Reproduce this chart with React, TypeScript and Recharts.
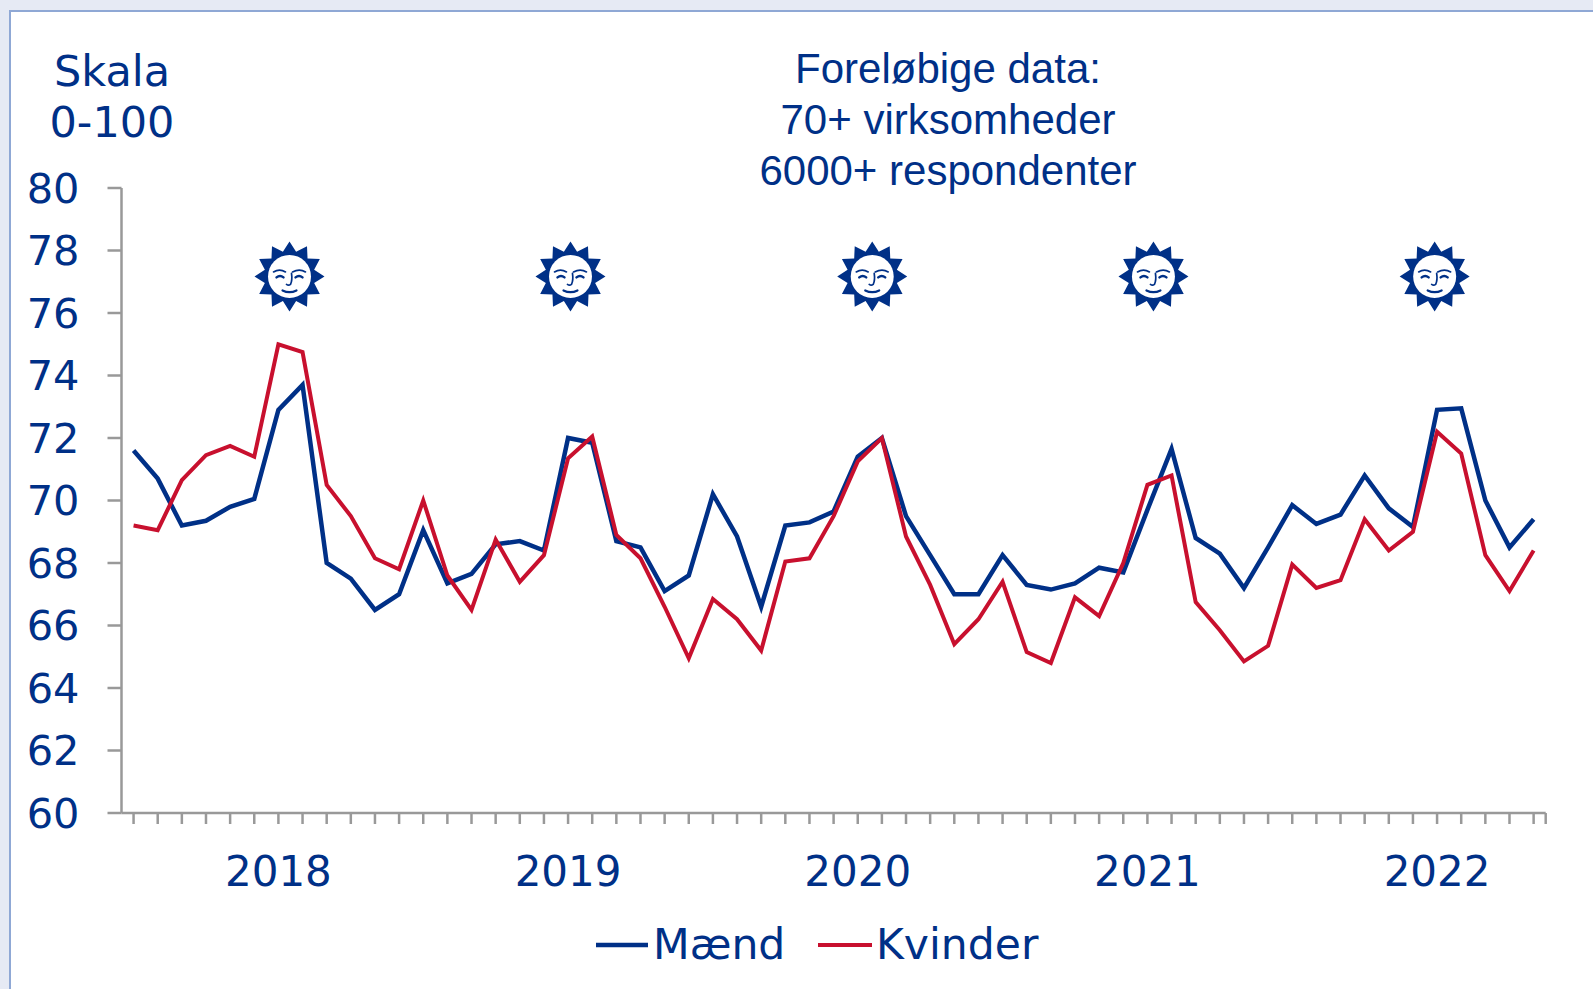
import React from 'react';
import { LineChart, Line, XAxis, YAxis, Legend, ReferenceDot } from 'recharts';

const maend = [71.6,70.7,69.2,69.35,69.8,70.05,72.9,73.7,68.0,67.5,66.5,67.0,69.05,67.35,67.65,68.6,68.7,68.4,72.0,71.85,68.7,68.5,67.1,67.6,70.2,68.85,66.6,69.2,69.3,69.65,71.4,72.0,69.5,68.25,67.0,67.0,68.25,67.3,67.15,67.35,67.85,67.7,69.7,71.65,68.8,68.3,67.2,68.5,69.85,69.25,69.55,70.8,69.75,69.15,72.9,72.95,70.0,68.5,69.4];
const kvinder = [69.2,69.05,70.65,71.45,71.75,71.4,75.0,74.75,70.5,69.5,68.15,67.8,70.0,67.6,66.5,68.75,67.4,68.25,71.35,72.05,68.9,68.15,66.6,64.95,66.85,66.2,65.2,68.05,68.15,69.5,71.25,72.0,68.85,67.3,65.4,66.2,67.4,65.15,64.8,66.9,66.3,68.0,70.5,70.8,66.75,65.85,64.85,65.35,67.95,67.2,67.45,69.4,68.4,69.0,72.2,71.5,68.25,67.1,68.4];
const years = ['2018','2019','2020','2021','2022'];
const yearIndex = [6,18,30,42,54];
const yTicks = [60,62,64,66,68,70,72,74,76,78,80];
const sunX = [6.46,18.1,30.6,42.25,53.9];
const sunY = 77.17;
const titleLines = ['Foreløbige data:','70+ virksomheder','6000+ respondenter'];
const scaleLines = ['Skala','0-100'];

const data = maend.map((m, i) => ({ i, 'Mænd': m, Kvinder: kvinder[i] }));
const xTicks = [...maend.map((_, i) => i), 58.5];

const BLUE = '#003087';
const RED = '#C8102E';
const GREY = '#999999';
const VERDANA = '"DejaVu Sans", sans-serif';

const starPoints = Array.from({ length: 24 }, (_, k) => {
  const r = k % 2 === 0 ? 35 : 25.5;
  const a = (k * 15 - 90) * Math.PI / 180;
  return `${(r * Math.cos(a)).toFixed(2)},${(r * Math.sin(a)).toFixed(2)}`;
}).join(' ');

const Sun = (p: any) => (
  <g transform={`translate(${p.cx},${p.cy})`}>
    <polygon points={starPoints} fill={BLUE} />
    <circle r={21.5} fill="#fff" />
    <g fill="none" stroke={BLUE} strokeWidth={1.7} strokeLinecap="round">
      <path d="M-16,-4.5 Q-10,-8 -4,-4.5" />
      <path d="M16,-4.5 Q10,-8 3,-4.5" />
      <path d="M-13,1 Q-9.5,-2 -6,1" strokeWidth={2.4} />
      <path d="M13,1 Q9.5,-2 6,1" strokeWidth={2.4} />
      <path d="M2,-3 Q3,4 1,8 Q-1,9.5 -3,8" />
      <path d="M-7,14 Q0,17.5 7,14" strokeWidth={2.2} />
    </g>
  </g>
);

const LegendContent = () => (
  <div style={{ position: 'relative', width: 560, height: 50, fontFamily: VERDANA, fontSize: 42.5, color: BLUE, lineHeight: '50px' }}>
    <svg width={560} height={50} style={{ position: 'absolute', left: 0, top: 0 }}>
      <line x1={0} x2={52} y1={25} y2={25} stroke={BLUE} strokeWidth={4.5} />
      <line x1={222} x2={276} y1={25} y2={25} stroke={RED} strokeWidth={4} />
    </svg>
    <span style={{ position: 'absolute', left: 57, top: 0 }}>Mænd</span>
    <span style={{ position: 'absolute', left: 280, top: 0 }}>Kvinder</span>
  </div>
);

export default function App() {
  return (
    <div style={{ position: 'absolute', left: 0, top: 0, width: 1593, height: 989, overflow: 'hidden', background: '#E6EAF4' }}>
      <div style={{ position: 'absolute', left: 9, top: 10, width: 1700, height: 1100, background: '#fff', border: '2px solid #8FA8D5', boxSizing: 'border-box' }} />
      {scaleLines.map((t, i) => (
        <div key={t} style={{ position: 'absolute', left: 12, width: 200, top: 46 + i * 51, textAlign: 'center', fontFamily: VERDANA, fontSize: 43, lineHeight: '51px', color: BLUE }}>{t}</div>
      ))}
      {titleLines.map((t, i) => (
        <div key={t} style={{ position: 'absolute', left: 648, width: 600, top: 43 + i * 51, textAlign: 'center', fontFamily: '"Liberation Sans", sans-serif', fontSize: 42, lineHeight: '51px', color: BLUE }}>{t}</div>
      ))}
      <div style={{ position: 'absolute', left: 0, top: 0 }}>
        <LineChart width={1593} height={989} data={data} margin={{ top: 188, right: 47.3, bottom: 0, left: 0 }}>
          <XAxis
            dataKey="i"
            type="number"
            domain={[-0.5, 58.5]}
            ticks={xTicks}
            interval={0}
            allowDataOverflow
            height={176}
            tickSize={11}
            tickMargin={32}
            axisLine={{ stroke: GREY, strokeWidth: 2.5 }}
            tickLine={{ stroke: GREY, strokeWidth: 2.5 }}
            tick={{ fill: BLUE, fontSize: 42, fontFamily: VERDANA }}
            tickFormatter={(v: number) => { const k = yearIndex.indexOf(v); return k >= 0 ? years[k] : ''; }}
          />
          <YAxis
            domain={[60, 80]}
            ticks={yTicks}
            interval={0}
            width={121.5}
            tickSize={14}
            tickMargin={28}
            axisLine={{ stroke: GREY, strokeWidth: 2.5 }}
            tickLine={{ stroke: GREY, strokeWidth: 2.5 }}
            tick={{ fill: BLUE, fontSize: 41.5, fontFamily: VERDANA }}
          />
          <Legend verticalAlign="middle" layout="horizontal" content={<LegendContent />} wrapperStyle={{ position: 'absolute', left: 596, top: 920, width: 560, height: 50 }} />
          <Line dataKey="Mænd" stroke={BLUE} strokeWidth={4.5} dot={false} type="linear" isAnimationActive={false} />
          <Line dataKey="Kvinder" stroke={RED} strokeWidth={4} dot={false} type="linear" isAnimationActive={false} />
          {sunX.map((x) => (
            <ReferenceDot key={x} x={x} y={sunY} r={35} shape={<Sun />} ifOverflow="visible" />
          ))}
        </LineChart>
      </div>
    </div>
  );
}
